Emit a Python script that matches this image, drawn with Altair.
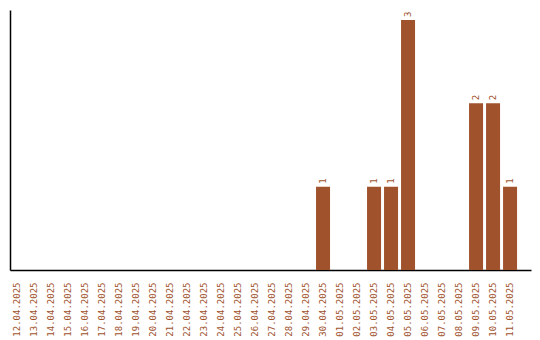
import altair as alt
import pandas as pd

dates = [f"{d:02d}.04.2025" for d in range(12, 31)] + [f"{d:02d}.05.2025" for d in range(1, 12)]
counts = [0]*18 + [1, 0, 0, 1, 1, 3, 0, 0, 0, 2, 2, 1]

df = pd.DataFrame({"date": dates, "count": counts})
lab = df[df["count"] > 0]

COLOR = "#a0522d"
FONT = "DejaVu Sans Mono"

x = alt.X("date:N", sort=dates, title=None,
          scale=alt.Scale(paddingInner=0.176, paddingOuter=0.41, align=0),
          axis=alt.Axis(labelAngle=-90, ticks=False, labelPadding=12, labelColor=COLOR,
                        labelFont=FONT, labelFontSize=9, domainColor="black", domainWidth=1.5,
                        grid=False))
y = alt.Y("count:Q", title=None, scale=alt.Scale(domain=[0, 3.12], nice=False),
          axis=alt.Axis(labels=False, ticks=False, grid=False, domainColor="black", domainWidth=1.5))

bars = alt.Chart(df).mark_bar(color=COLOR).encode(x=x, y=y)
text = alt.Chart(lab).mark_text(angle=270, align="left", baseline="middle", dx=3,
                                 color=COLOR, font=FONT, fontSize=9).encode(
    x=alt.X("date:N", sort=dates), y="count:Q", text="count:Q")

chart = (bars + text).properties(
    width=521, height=260,
    background="white",
    autosize=alt.AutoSizeParams(type="none"),
    padding={"left": 10, "top": 10, "right": 9, "bottom": 70},
).configure_view(stroke=None, strokeWidth=0)

chart.save("out.html", embed_options={"renderer": "svg", "actions": False})
